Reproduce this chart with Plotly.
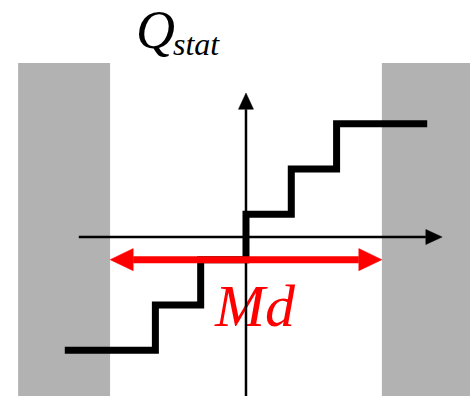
import plotly.graph_objects as go

# Staircase data (x in units of Md/3, y in quantisation levels)
step_x = [-4, -2, -2, -1, -1, 0, 0, 1, 1, 2, 2, 4]
step_y = [-2.5, -2.5, -1.5, -1.5, -0.5, -0.5, 0.5, 0.5, 1.5, 1.5, 2.5, 2.5]

# Dead-zone / saturation bounds (gray regions) and Md span
md_half = 3.0
gray_top = 3.84
arrow_level = -0.5
gray_left = [-5.03, -md_half]
gray_right = [md_half, 6]

# Axis extents
haxis_x = [-3.69, 4.33]
vaxis_y = [-3.7, 3.18]

XR = [-5.43, 4.945]
YR = [-3.51, 5.232]

SERIF = "Times New Roman, Liberation Serif, serif"

fig = go.Figure()

# Md label (drawn first so axis passes over it)
fig.add_trace(go.Scatter(x=[0.2], y=[-1.63], mode="text", text=["Md"],
                         textposition="middle center",
                         textfont=dict(family=SERIF, size=60, color="#ff0000", style="italic"),
                         hoverinfo="skip", showlegend=False, cliponaxis=False))

# Horizontal axis
ah_len, ah_half = 0.36, 0.166
fig.add_trace(go.Scatter(x=[haxis_x[0], haxis_x[1] - ah_len], y=[0, 0], mode="lines",
                         line=dict(color="black", width=2.5), showlegend=False, hoverinfo="skip"))
fig.add_trace(go.Scatter(x=[haxis_x[1] - ah_len, haxis_x[1], haxis_x[1] - ah_len, haxis_x[1] - ah_len],
                         y=[ah_half, 0, -ah_half, ah_half], mode="lines", fill="toself",
                         fillcolor="black", line=dict(color="black", width=0.5),
                         showlegend=False, hoverinfo="skip"))
# Vertical axis
fig.add_trace(go.Scatter(x=[0, 0], y=[vaxis_y[0], vaxis_y[1] - ah_len], mode="lines",
                         line=dict(color="black", width=2.5), showlegend=False, hoverinfo="skip"))
fig.add_trace(go.Scatter(x=[-ah_half, 0, ah_half, -ah_half],
                         y=[vaxis_y[1] - ah_len, vaxis_y[1], vaxis_y[1] - ah_len, vaxis_y[1] - ah_len],
                         mode="lines", fill="toself", fillcolor="black",
                         line=dict(color="black", width=0.5), showlegend=False, hoverinfo="skip"))

# Staircase
fig.add_trace(go.Scatter(x=step_x, y=step_y, mode="lines",
                         line=dict(color="black", width=7), showlegend=False, hoverinfo="skip"))

# Red double arrow (Md)
rh_len, rh_half = 0.51, 0.245
fig.add_trace(go.Scatter(x=[-md_half + rh_len, md_half - rh_len], y=[arrow_level, arrow_level],
                         mode="lines", line=dict(color="#ff0000", width=7),
                         showlegend=False, hoverinfo="skip"))
for s in (-1, 1):
    tip = s * md_half
    base = tip - s * rh_len
    fig.add_trace(go.Scatter(x=[base, tip, base, base],
                             y=[arrow_level + rh_half, arrow_level, arrow_level - rh_half, arrow_level + rh_half],
                             mode="lines", fill="toself", fillcolor="#ff0000",
                             line=dict(color="#ff0000", width=0.5), showlegend=False, hoverinfo="skip"))

# Gray regions
for x0, x1 in (gray_left, gray_right):
    fig.add_shape(type="rect", x0=x0, x1=x1, y0=-5, y1=gray_top, layer="below",
                  fillcolor="#b2b2b2", line=dict(width=0))

# Q_stat title
fig.add_annotation(x=-2.47, y=4.574, text="Q", showarrow=False, xanchor="left", yanchor="middle",
                   font=dict(family=SERIF, size=54, color="black", style="italic"))
fig.add_annotation(x=-1.65, y=4.26, text="stat", showarrow=False, xanchor="left", yanchor="middle",
                   font=dict(family=SERIF, size=32, color="black", style="italic"))

fig.update_layout(width=470, height=396, margin=dict(l=0, r=0, t=0, b=0),
                  paper_bgcolor="white", plot_bgcolor="white",
                  xaxis=dict(range=XR, visible=False, fixedrange=True),
                  yaxis=dict(range=YR, visible=False, fixedrange=True))

fig.write_html("out.html", config={"displayModeBar": False},
               post_script="document.body.style.margin='0';document.body.style.overflow='hidden';")
